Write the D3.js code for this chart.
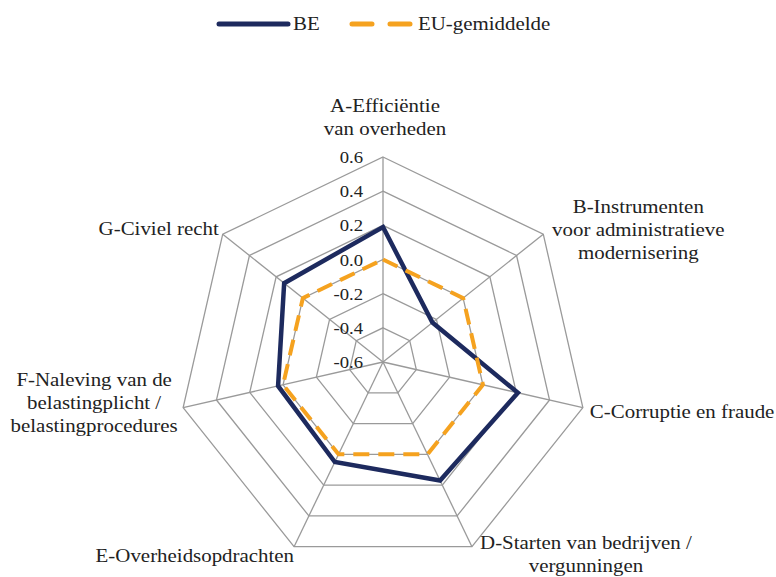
<!DOCTYPE html>
<html>
<head>
<meta charset="utf-8">
<script src="https://cdn.jsdelivr.net/npm/d3@7"></script>
<style>
  body { margin: 0; background: #fff; }
  svg text { fill: #222; }
</style>
</head>
<body>
<div id="chart"></div>
<script>
// chart data
var categories = [
  ["A-Efficiëntie", "van overheden"],
  ["B-Instrumenten", "voor administratieve", "modernisering"],
  ["C-Corruptie en fraude"],
  ["D-Starten van bedrijven /", "vergunningen"],
  ["E-Overheidsopdrachten"],
  ["F-Naleving van de", "belastingplicht /", "belastingprocedures"],
  ["G-Civiel recht"]
];
var beValues = [0.19, -0.23, 0.21, 0.17, 0.05, 0.03, 0.14];
var euValues = [0, 0, 0, 0, 0, 0, 0];
var tickValues = [-0.6, -0.4, -0.2, 0.0, 0.2, 0.4, 0.6];
var seriesNames = ["BE", "EU-gemiddelde"];

var w = 776, h = 577;
var cx = 383, cy = 362, R = 205;
var sx = 1.1; // text in the picture is a bit wider than it is tall
var serif = "'Liberation Serif', 'Times New Roman', Times, 'Noto Serif', 'DejaVu Serif', serif";

var svg = d3.select("#chart").append("svg")
    .attr("width", w).attr("height", h)
    .style("font-family", serif);

var rScale = d3.scaleLinear().domain([-0.6, 0.6]).range([0, R]);
var aScale = d3.scaleLinear().domain([0, categories.length]).range([0, 2 * Math.PI]);

function pt(i, v) {
  var a = aScale(i), r = rScale(v);
  return [cx + r * Math.sin(a), cy - r * Math.cos(a)];
}

var radial = d3.line().curve(d3.curveLinearClosed);

// grid rings (center value -0.6 is a point)
svg.append("g").selectAll("path")
  .data(tickValues.filter(function(t){ return t > -0.6; }))
  .enter().append("path")
  .attr("d", function(t){
    return radial(categories.map(function(c, i){ return pt(i, t); }));
  })
  .attr("fill", "none")
  .attr("stroke", "#9a9a9a")
  .attr("stroke-width", 1.3);

// spokes
svg.append("g").selectAll("line")
  .data(categories)
  .enter().append("line")
  .attr("x1", cx).attr("y1", cy)
  .attr("x2", function(d, i){ return pt(i, 0.6)[0]; })
  .attr("y2", function(d, i){ return pt(i, 0.6)[1]; })
  .attr("stroke", "#9a9a9a")
  .attr("stroke-width", 1.3);

// tick labels along the top axis
svg.append("g").selectAll("text")
  .data(tickValues)
  .enter().append("text")
  .attr("transform", function(t){
    return "translate(" + (cx - 20) + "," + (cy - rScale(t) + 6) + ") scale(" + sx + ",1)";
  })
  .attr("text-anchor", "end")
  .style("font-family", serif)
  .attr("font-size", "17px")
  .text(function(t){ return t.toFixed(1); });

// BE series
svg.append("path")
  .attr("d", radial(beValues.map(function(v, i){ return pt(i, v); })))
  .attr("fill", "none")
  .attr("stroke", "#1d2a5e")
  .attr("stroke-width", 4.5);

// EU series (dashed, drawn on top)
svg.append("path")
  .attr("d", radial(euValues.map(function(v, i){ return pt(i, v); })))
  .attr("fill", "none")
  .attr("stroke", "#f5a21f")
  .attr("stroke-width", 4)
  .attr("stroke-dasharray", "16,9");

// category labels: anchor and offset from the outer vertex
var labelPos = [
  { anchor: "middle", dx: 2, dy: -45 },
  { anchor: "middle", dx: 95, dy: -21 },
  { anchor: "start", dx: 7, dy: 10 },
  { anchor: "middle", dx: 114, dy: 2 },
  { anchor: "end", dx: 0, dy: 15 },
  { anchor: "middle", dx: -89, dy: -22 },
  { anchor: "end", dx: -4, dy: 1 }
];
var lineH = 23;

var labels = svg.append("g").selectAll("g")
  .data(categories)
  .enter().append("g")
  .attr("transform", function(d, i){
    var p = pt(i, 0.6), o = labelPos[i];
    return "translate(" + (p[0] + o.dx) + "," + (p[1] + o.dy) + ") scale(" + sx + ",1)";
  });

labels.append("text")
  .attr("text-anchor", function(d, i){ return labelPos[i].anchor; })
  .style("font-family", serif)
  .attr("font-size", "19px")
  .selectAll("tspan")
  .data(function(d){ return d; })
  .enter().append("tspan")
  .attr("x", 0)
  .attr("y", function(d, j){ return j * lineH; })
  .text(function(d){ return d; });

// legend
var legend = svg.append("g");
legend.append("line")
  .attr("x1", 219).attr("x2", 288).attr("y1", 24).attr("y2", 24)
  .attr("stroke", "#1d2a5e").attr("stroke-width", 5)
  .attr("stroke-linecap", "round");
legend.append("text")
  .attr("transform", "translate(293,30) scale(" + sx + ",1)")
  .style("font-family", serif)
  .attr("font-size", "19px")
  .text(seriesNames[0]);
legend.append("line")
  .attr("x1", 352).attr("x2", 412).attr("y1", 24).attr("y2", 24)
  .attr("stroke", "#f5a21f").attr("stroke-width", 5)
  .attr("stroke-linecap", "round")
  .attr("stroke-dasharray", "20,18");
legend.append("text")
  .attr("transform", "translate(418,30) scale(" + sx + ",1)")
  .style("font-family", serif)
  .attr("font-size", "19px")
  .text(seriesNames[1]);
</script>
</body>
</html>
